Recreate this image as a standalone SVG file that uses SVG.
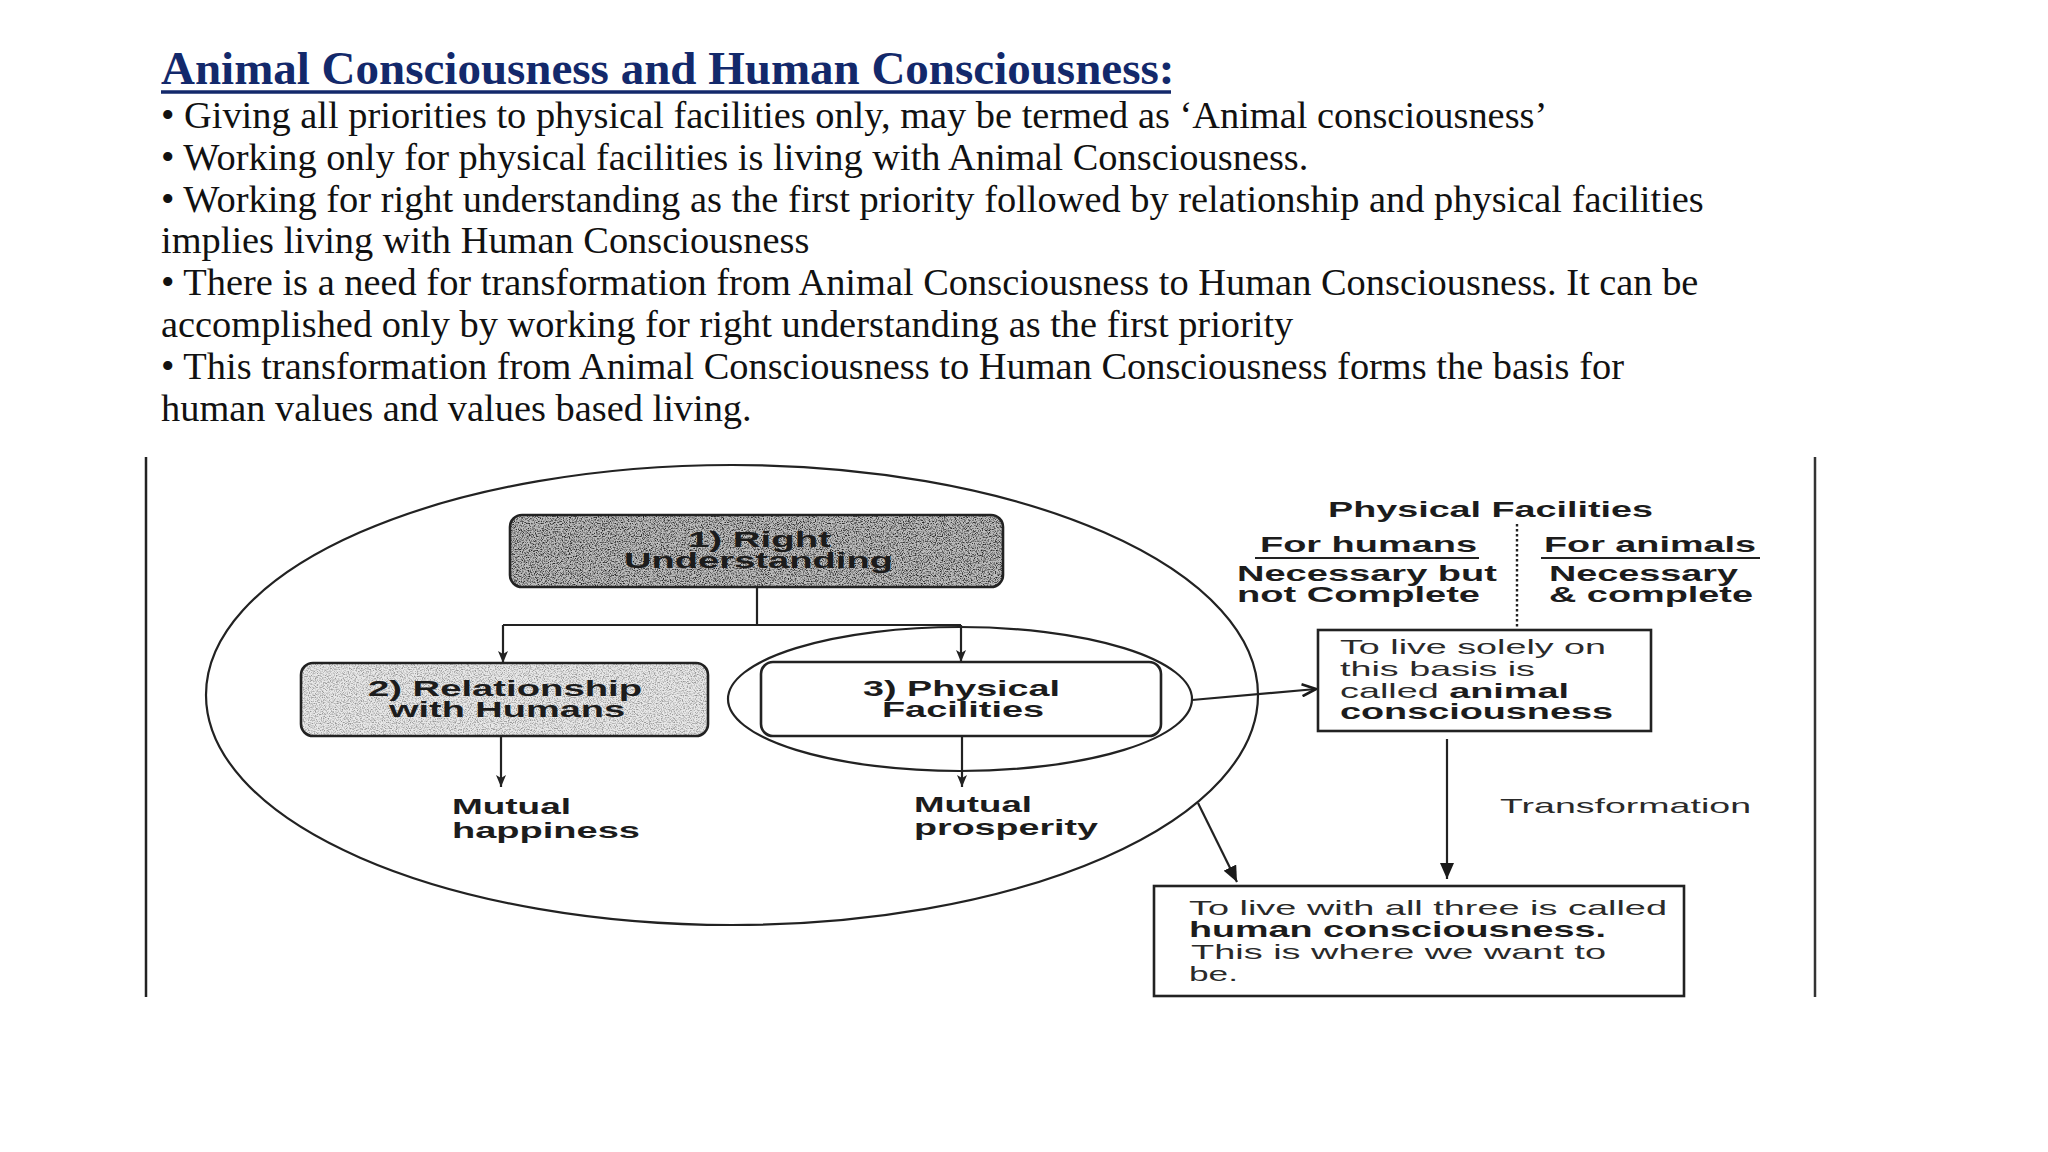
<svg xmlns="http://www.w3.org/2000/svg" width="2048" height="1152" viewBox="0 0 2048 1152">
<style>
.hdr{font-family:"Liberation Serif","Times New Roman",serif;font-size:38.4px;fill:#111}
.title{font-family:"Liberation Serif","Times New Roman",serif;font-size:47px;font-weight:bold;fill:#13296b}
.dt{font-family:"Liberation Sans",Arial,sans-serif;font-size:21.5px;font-weight:bold;fill:#1c1c1c}
.dr{font-family:"Liberation Sans",Arial,sans-serif;font-size:21px;fill:#2a2a2a}
.b{font-weight:bold;fill:#1c1c1c}
.ln{fill:none;stroke:#222;stroke-width:2.2}
.box{stroke:#222;stroke-width:2.6}
</style>
<defs>
<filter id="grain" x="0" y="0" width="100%" height="100%">
<feTurbulence type="fractalNoise" baseFrequency="0.85" numOctaves="3" seed="7" result="noise"/>
<feColorMatrix in="noise" type="matrix" values="0 0 0 0 0  0 0 0 0 0  0 0 0 0 0  -3 0 0 0 1.7" result="spk"/>
<feComposite in="spk" in2="SourceGraphic" operator="in"/>
</filter>
<marker id="ah" viewBox="0 0 12 10" refX="12" refY="5" markerWidth="12" markerHeight="10" markerUnits="userSpaceOnUse" orient="auto">
<path d="M0,0 L12,5 L0,10 L3,5 Z" fill="#222"/>
</marker>
<marker id="ahb" viewBox="0 0 16 14" refX="16" refY="7" markerWidth="16" markerHeight="14" markerUnits="userSpaceOnUse" orient="auto">
<path d="M0,0 L16,7 L0,14 Z" fill="#1a1a1a"/>
</marker>
<marker id="aho" viewBox="0 0 16 14" refX="15" refY="7" markerWidth="16" markerHeight="14" markerUnits="userSpaceOnUse" orient="auto">
<path d="M1,1 L15,7 L1,13" fill="none" stroke="#1a1a1a" stroke-width="2.6"/>
</marker>
</defs>
<rect width="2048" height="1152" fill="#fff"/>

<g id="header">
<text class="title" x="161" y="84">Animal Consciousness and Human Consciousness:</text>
<line x1="161" y1="92" x2="1171" y2="92" stroke="#13296b" stroke-width="3.5"/>
<text class="hdr" x="161" y="128">• Giving all priorities to physical facilities only, may be termed as ‘Animal consciousness’</text>
<text class="hdr" x="161" y="170">• Working only for physical facilities is living with Animal Consciousness.</text>
<text class="hdr" x="161" y="212">• Working for right understanding as the first priority followed by relationship and physical facilities</text>
<text class="hdr" x="161" y="253">implies living with Human Consciousness</text>
<text class="hdr" x="161" y="295">• There is a need for transformation from Animal Consciousness to Human Consciousness. It can be</text>
<text class="hdr" x="161" y="337">accomplished only by working for right understanding as the first priority</text>
<text class="hdr" x="161" y="379">• This transformation from Animal Consciousness to Human Consciousness forms the basis for</text>
<text class="hdr" x="161" y="421">human values and values based living.</text>
</g>

<g id="frame">
<line x1="146" y1="457" x2="146" y2="997" stroke="#222" stroke-width="2.5"/>
<line x1="1815" y1="457" x2="1815" y2="997" stroke="#333" stroke-width="2.5"/>
</g>

<g id="outer-ellipse">
<ellipse cx="732" cy="695" rx="526" ry="230" class="ln" stroke-width="2.6"/>
</g>
<g id="inner-ellipse">
<ellipse cx="960" cy="699" rx="232" ry="72" class="ln" stroke-width="2.4"/>
</g>

<g id="right-understanding">
<rect x="510" y="515" width="493" height="72" rx="12" fill="#bdbdbd"/>
<rect x="510" y="515" width="493" height="72" rx="12" fill="#000" filter="url(#grain)" opacity="0.8"/>
<rect x="510" y="515" width="493" height="72" rx="12" fill="none" class="box"/>
<text class="dt" x="688" y="547" textLength="143" lengthAdjust="spacingAndGlyphs">1) Right</text>
<text class="dt" x="624" y="568" textLength="269" lengthAdjust="spacingAndGlyphs">Understanding</text>
</g>

<g id="relationship">
<rect x="301" y="663" width="407" height="73" rx="12" fill="#e8e8e8"/>
<rect x="301" y="663" width="407" height="73" rx="12" fill="#000" filter="url(#grain)" opacity="0.35"/>
<rect x="301" y="663" width="407" height="73" rx="12" fill="none" class="box"/>
<text class="dt" x="368" y="696" textLength="274" lengthAdjust="spacingAndGlyphs">2) Relationship</text>
<text class="dt" x="389" y="717" textLength="236" lengthAdjust="spacingAndGlyphs">with Humans</text>
</g>

<g id="physical">
<rect x="761" y="662" width="400" height="74" rx="12" fill="#fff" class="box"/>
<text class="dt" x="863" y="696" textLength="197" lengthAdjust="spacingAndGlyphs">3) Physical</text>
<text class="dt" x="882" y="717" textLength="162" lengthAdjust="spacingAndGlyphs">Facilities</text>
</g>

<g id="mutual-happiness">
<text class="dt" x="452" y="814" textLength="119" lengthAdjust="spacingAndGlyphs">Mutual</text>
<text class="dt" x="452" y="838" textLength="188" lengthAdjust="spacingAndGlyphs">happiness</text>
</g>

<g id="mutual-prosperity">
<text class="dt" x="914" y="812" textLength="118" lengthAdjust="spacingAndGlyphs">Mutual</text>
<text class="dt" x="914" y="835" textLength="184" lengthAdjust="spacingAndGlyphs">prosperity</text>
</g>

<g id="pf-table">
<text class="dt" x="1328" y="517" textLength="325" lengthAdjust="spacingAndGlyphs">Physical Facilities</text>
<text class="dt" x="1260" y="552" textLength="217" lengthAdjust="spacingAndGlyphs">For humans</text>
<line x1="1255" y1="558" x2="1479" y2="558" stroke="#222" stroke-width="2"/>
<text class="dt" x="1544" y="552" textLength="212" lengthAdjust="spacingAndGlyphs">For animals</text>
<line x1="1541" y1="558" x2="1760" y2="558" stroke="#222" stroke-width="2"/>
<text class="dt" x="1237" y="581" textLength="260" lengthAdjust="spacingAndGlyphs">Necessary but</text>
<text class="dt" x="1237" y="602" textLength="243" lengthAdjust="spacingAndGlyphs">not Complete</text>
<text class="dt" x="1549" y="581" textLength="189" lengthAdjust="spacingAndGlyphs">Necessary</text>
<text class="dt" x="1549" y="602" textLength="204" lengthAdjust="spacingAndGlyphs">&amp; complete</text>
<line x1="1517" y1="524" x2="1517" y2="628" stroke="#222" stroke-width="2.4" stroke-dasharray="2.5 2.5"/>
</g>

<g id="animal-consciousness">
<rect x="1318" y="630" width="333" height="101" fill="#fff" class="box"/>
<text class="dr" x="1340" y="654" textLength="266" lengthAdjust="spacingAndGlyphs">To live solely on</text>
<text class="dr" x="1340" y="676" textLength="195" lengthAdjust="spacingAndGlyphs">this basis is</text>
<text class="dr" x="1340" y="698" textLength="229" lengthAdjust="spacingAndGlyphs">called <tspan class="b">animal</tspan></text>
<text class="dt" x="1340" y="719" textLength="273" lengthAdjust="spacingAndGlyphs">consciousness</text>
</g>

<g id="transformation-label">
<text class="dr" x="1500" y="813" textLength="251" lengthAdjust="spacingAndGlyphs">Transformation</text>
</g>

<g id="human-consciousness">
<rect x="1154" y="886" width="530" height="110" fill="#fff" class="box" stroke-width="3"/>
<text class="dr" x="1189" y="915" textLength="478" lengthAdjust="spacingAndGlyphs">To live with all three is called</text>
<text class="dt" x="1189" y="937" textLength="417" lengthAdjust="spacingAndGlyphs">human consciousness.</text>
<text class="dr" x="1191" y="959" textLength="415" lengthAdjust="spacingAndGlyphs">This is where we want to</text>
<text class="dr" x="1189" y="981" textLength="49" lengthAdjust="spacingAndGlyphs">be.</text>
</g>

<g id="connectors">
<path class="ln" d="M757,588 V625 M503,625 H961"/>
<path class="ln" d="M503,625 V663" marker-end="url(#ah)"/>
<path class="ln" d="M961,625 V662" marker-end="url(#ah)"/>
<path class="ln" d="M501,737 V787" marker-end="url(#ah)"/>
<path class="ln" d="M962,736 V787" marker-end="url(#ah)"/>
<path class="ln" d="M1192,700 L1316,689" stroke-width="2.6" marker-end="url(#aho)"/>
<path class="ln" d="M1447,739 V879" stroke-width="3.2" marker-end="url(#ahb)"/>
<path class="ln" d="M1198,803 L1237,882" stroke-width="2.8" marker-end="url(#ahb)"/>
</g>
</svg>
